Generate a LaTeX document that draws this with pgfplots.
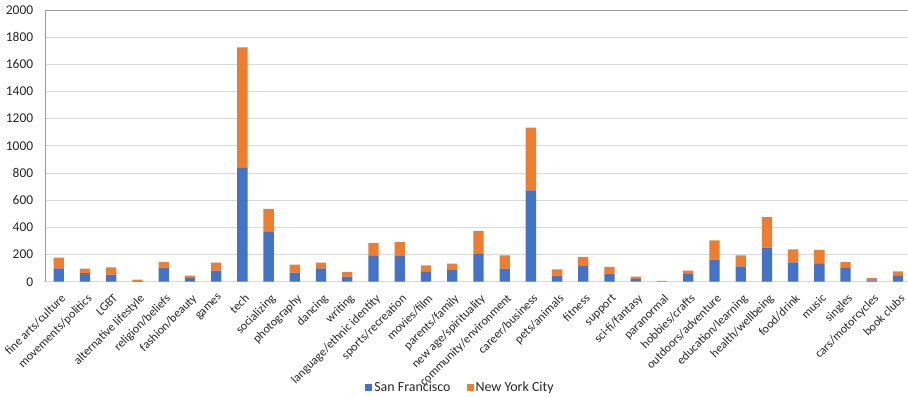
\documentclass[border=0pt]{standalone}
\usepackage{pgfplots}
\pgfplotsset{compat=1.18}
\usepackage{pgfplotstable}
\usepackage{fontspec}
\setmainfont{Carlito}
\definecolor{sfblue}{HTML}{4472C4}
\definecolor{nyorange}{HTML}{ED7D31}
\definecolor{gridgray}{HTML}{D9D9D9}
\definecolor{framegray}{HTML}{9A9A9A}
\definecolor{txt}{HTML}{262626}
\pgfplotstableread{
idx SF NYC
0 98 79
1 64 32
2 52 54
3 5 10
4 103 42
5 32 12
6 81 59
7 842 883
8 370 167
9 66 59
10 98 42
11 37 34
12 194 91
13 194 100
14 76 44
15 86 47
16 204 171
17 96 98
18 672 462
19 44 47
20 120 62
21 60 50
22 20 17
23 2 5
24 61 20
25 162 142
26 113 81
27 250 226
28 142 96
29 132 103
30 105 40
31 10 17
32 42 34
}\datatable
\begin{document}
\begin{tikzpicture}
\begin{axis}[
  name=ax,
  scale only axis,
  width=862.3bp, height=271.7bp,
  ybar stacked,
  bar width=10.3bp,
  xmin=-0.5, xmax=32.38,
  ymin=0, ymax=2000,
  ytick={0,200,...,2000},
  xtick={0,...,32},
  xticklabels={fine arts/culture,movements/politics,LGBT,alternative lifestyle,religion/beliefs,fashion/beauty,games,tech,socializing,photography,dancing,writing,language/ethnic identity,sports/recreation,movies/film,parents/family,new age/spirituality,community/environment,career/business,pets/animals,fitness,support,sci-fi/fantasy,paranormal,hobbies/crafts,outdoors/adventure,education/learning,health/wellbeing,food/drink,music,singles,cars/motorcycles,book clubs},
  x tick label style={rotate=45, anchor=north east, inner sep=1bp, xshift=-6bp, yshift=-8bp, font=\fontsize{12.2}{14}\selectfont, text=txt},
  y tick label style={font=\fontsize{13.5}{15}\selectfont, text=txt, xshift=-9bp},
  /pgf/number format/assume math mode=true,
  /pgf/number format/set thousands separator={},
  major tick length=0pt,
  ymajorgrids,
  grid style={gridgray, line width=0.8bp},
  axis line style={draw=none},
  legend style={at={(0.481,-0.39)}, anchor=center, legend columns=2, draw=none, fill=none,
    font=\fontsize{14}{16}\selectfont, text=txt,
    /tikz/column 2/.style={column sep=14bp}},
  legend image code/.code={\fill[#1] (0bp,-3.5bp) rectangle (7bp,3.5bp);},
  clip=false,
]
\addplot[fill=sfblue, draw=none] table[x=idx, y=SF] {\datatable};
\addplot[fill=nyorange, draw=none] table[x=idx, y=NYC] {\datatable};
\legend{San Francisco, New York City}
\draw[gridgray, line width=1bp] (rel axis cs:0,0) -- (rel axis cs:1,0);
\draw[framegray, line width=1bp] (rel axis cs:0,0) -- (rel axis cs:0,1) -- (rel axis cs:1,1);
\end{axis}
\pgfresetboundingbox
\path ([xshift=-45.7bp,yshift=-115.3bp]ax.south west) rectangle ([yshift=10bp]ax.north east);
\end{tikzpicture}
\end{document}
